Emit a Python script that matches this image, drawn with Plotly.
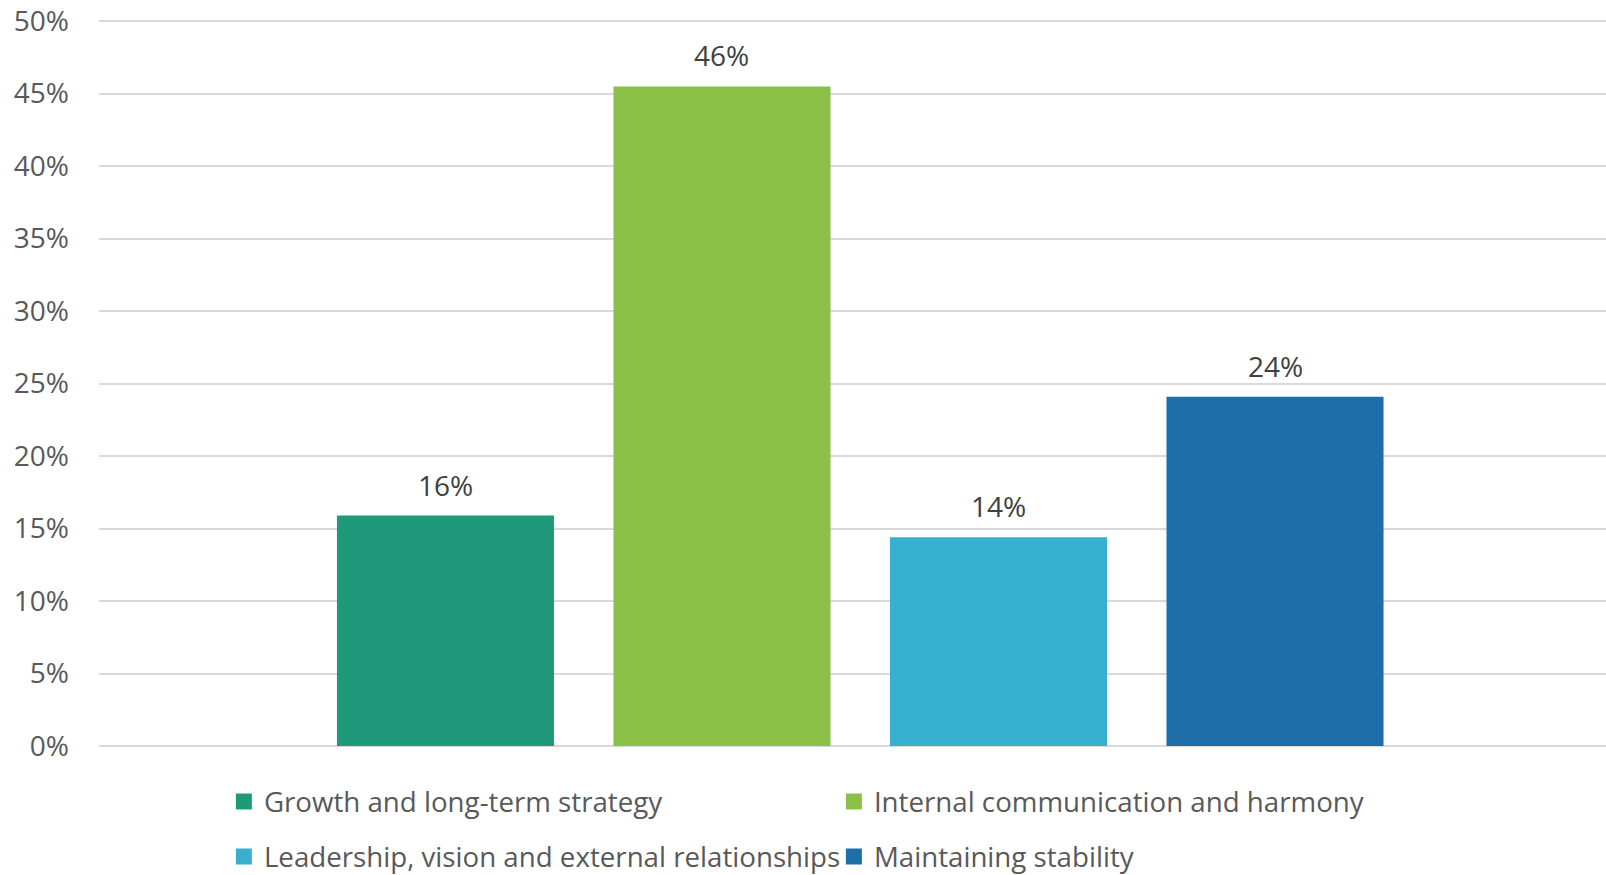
import plotly.graph_objects as go

categories = ["Growth and long-term strategy", "Internal communication and harmony",
              "Leadership, vision and external relationships", "Maintaining stability"]
values = [0.159, 0.455, 0.144, 0.241]
colors = ["#1E9A7B", "#8BC146", "#37AFCE", "#1E6FA9"]
tick_vals = [0, 0.05, 0.10, 0.15, 0.20, 0.25, 0.30, 0.35, 0.40, 0.45, 0.50]

FONT = "Open Sans"
fig = go.Figure()
for i, (c, v, col) in enumerate(zip(categories, values, colors)):
    fig.add_trace(go.Bar(x=[i], y=[v], name=c, marker=dict(color=col, line=dict(width=0)),
                         width=0.785, hoverinfo="skip", showlegend=False))
    fig.add_annotation(x=i, y=v, text=f"{v:.0%}", showarrow=False, yanchor="middle",
                       yshift=31, font=dict(family=FONT, size=28, color="#404040"))
    # legend entries (square swatches)
    fig.add_trace(go.Scatter(x=[None], y=[None], mode="markers", name=c,
                             marker=dict(symbol="square", size=17, color=col),
                             legend="legend" if i < 2 else "legend2"))

legend_common = dict(orientation="h", xref="container", yref="container",
                     xanchor="left", yanchor="middle", entrywidth=565,
                     entrywidthmode="pixels", traceorder="normal", itemwidth=30,
                     bgcolor="rgba(0,0,0,0)",
                     font=dict(family=FONT, size=27.7, color="#595959"))

fig.update_layout(
    width=1606, height=875,
    margin=dict(l=99, r=0, t=19.5, b=128.5, autoexpand=False),
    paper_bgcolor="white", plot_bgcolor="white",
    font=dict(family=FONT, size=28, color="#595959"),
    showlegend=True,
    legend=dict(x=0.1394, y=1 - 802 / 875, **legend_common),
    legend2=dict(x=0.1394, y=1 - 857 / 875, **legend_common),
    xaxis=dict(range=[-1.253, 4.197], showticklabels=False, showgrid=False,
               zeroline=False, showline=False, automargin=False),
    yaxis=dict(range=[0, 0.5008], tickvals=tick_vals, tickformat=".0%",
               showgrid=True, gridcolor="#D9D9D9", gridwidth=1.5,
               zeroline=True, zerolinecolor="#D9D9D9", zerolinewidth=1.5,
               showline=False, ticks="", ticklabelstandoff=29, automargin=False,
               ticklabeloverflow="allow",
               tickfont=dict(family=FONT, size=28, color="#595959")),
)
fig.write_html("out.html", config={"displayModeBar": False},
               post_script="document.body.style.margin='0';document.body.style.overflow='hidden';")
